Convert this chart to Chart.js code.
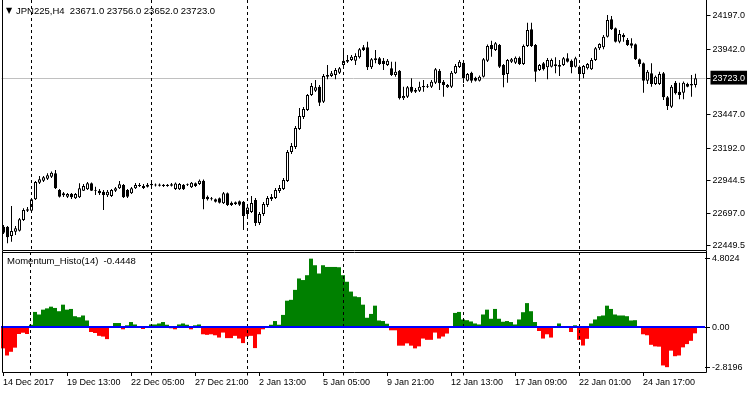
<!DOCTYPE html>
<html>
<head>
<meta charset="utf-8">
<script src="https://cdn.jsdelivr.net/npm/chart.js@4.4.1/dist/chart.umd.min.js"></script>
<style>
  html, body { margin: 0; padding: 0; background: #fff; overflow: hidden; }
  #wrap { position: relative; width: 750px; height: 394px; }
  canvas { position: absolute; left: 0; }
  #price-chart { top: 0; }
  #momentum-chart { top: 251px; }
</style>
</head>
<body>
<div id="wrap">
  <canvas id="price-chart" width="750" height="252"></canvas>
  <canvas id="momentum-chart" width="750" height="143"></canvas>
</div>
<script>
const symbol = 'JPN225,H4';
const indicatorName = 'Momentum_Histo(14)';

// one label every 16 H4 bars
const timeLabels = ['14 Dec 2017', '19 Dec 13:00', '22 Dec 05:00', '27 Dec 21:00', '2 Jan 13:00',
  '5 Jan 05:00', '9 Jan 21:00', '12 Jan 13:00', '17 Jan 09:00', '22 Jan 01:00', '24 Jan 17:00'];
const labelStep = 16;
// bars where a new week starts (period separators)
const weekStarts = [7, 37, 61, 85, 115, 144];

const opens = [22596, 22596, 22525, 22558, 22566, 22647, 22717, 22717, 22804, 22930,
  22945, 22960, 22975, 23001, 22874, 22849, 22823, 22846, 22811, 22819,
  22869, 22880, 22925, 22872, 22869, 22861, 22834, 22829, 22869, 22887,
  22912, 22874, 22849, 22887, 22905, 22905, 22899, 22910, 22908, 22916,
  22905, 22914, 22906, 22882, 22880, 22914, 22912, 22895, 22925, 22920,
  22945, 22823, 22804, 22804, 22811, 22773, 22849, 22778, 22768, 22788,
  22785, 22692, 22707, 22798, 22624, 22692, 22760, 22806, 22814, 22867,
  22882, 22943, 23163, 23200, 23337, 23428, 23481, 23595, 23628, 23658,
  23544, 23734, 23739, 23747, 23764, 23823, 23848, 23861, 23855, 23881,
  23957, 23957, 23805, 23861, 23874, 23855, 23823, 23798, 23747, 23780,
  23570, 23582, 23658, 23633, 23628, 23654, 23658, 23658, 23688, 23780,
  23696, 23654, 23658, 23760, 23808, 23840, 23704, 23764, 23726, 23704,
  23734, 23855, 23974, 23937, 23974, 23823, 23754, 23848, 23840, 23878,
  23830, 23967, 24094, 23974, 23785, 23836, 23805, 23810, 23815, 23810,
  23823, 23874, 23855, 23810, 23810, 23754, 23798, 23790, 23861, 23949,
  23957, 24037, 24169, 24101, 24000, 24050, 24012, 23987, 23980, 23866,
  23836, 23704, 23760, 23679, 23679, 23760, 23578, 23506, 23688, 23620,
  23612, 23679, 23667, 23671];

const highs = [22609, 22601, 22753, 22601, 22662, 22735, 22745, 22814, 22943, 22980,
  22980, 23001, 23015, 23026, 22882, 22859, 22851, 22851, 22851, 22925,
  22920, 22935, 22931, 22899, 22882, 22874, 22874, 22882, 22897, 22943,
  22920, 22882, 22897, 22927, 22927, 22920, 22927, 22935, 22924, 22924,
  22920, 22920, 22927, 22931, 22927, 22920, 22924, 22935, 22931, 22954,
  22954, 22832, 22821, 22810, 22817, 22859, 22855, 22787, 22787, 22795,
  22791, 22760, 22829, 22814, 22707, 22783, 22829, 22844, 22889, 22912,
  22965, 23178, 23231, 23360, 23496, 23504, 23603, 23686, 23709, 23671,
  23754, 23823, 23777, 23800, 23808, 23931, 23899, 23899, 23912, 23952,
  23974, 24000, 23876, 23937, 23883, 23876, 23868, 23848, 23848, 23785,
  23658, 23663, 23722, 23648, 23696, 23709, 23679, 23709, 23800, 23792,
  23709, 23679, 23777, 23830, 23861, 23853, 23762, 23772, 23734, 23743,
  23876, 23978, 24007, 23997, 23982, 23830, 23868, 23876, 23887, 23887,
  23978, 24144, 24144, 23982, 23830, 23845, 23876, 23872, 23881, 23861,
  23884, 23912, 23865, 23886, 23819, 23823, 23838, 23876, 23959, 23987,
  24050, 24202, 24195, 24107, 24088, 24063, 24028, 24025, 23986, 23872,
  23842, 23785, 23836, 23743, 23772, 23770, 23588, 23671, 23701, 23688,
  23698, 23688, 23747, 23756];

const lows = [22540, 22470, 22482, 22533, 22560, 22639, 22707, 22707, 22798, 22920,
  22935, 22950, 22965, 22882, 22817, 22821, 22814, 22806, 22806, 22814,
  22867, 22874, 22867, 22836, 22836, 22722, 22821, 22821, 22859, 22882,
  22814, 22814, 22844, 22882, 22897, 22882, 22893, 22905, 22901, 22901,
  22897, 22899, 22901, 22874, 22874, 22874, 22905, 22889, 22897, 22912,
  22728, 22795, 22795, 22779, 22772, 22768, 22753, 22753, 22760, 22753,
  22571, 22677, 22700, 22601, 22609, 22677, 22745, 22791, 22806, 22851,
  22874, 22935, 23147, 23185, 23330, 23413, 23474, 23588, 23618, 23512,
  23534, 23714, 23732, 23714, 23754, 23808, 23838, 23853, 23823, 23872,
  23929, 23785, 23792, 23836, 23823, 23785, 23815, 23739, 23734, 23561,
  23557, 23572, 23610, 23610, 23618, 23620, 23648, 23648, 23679, 23633,
  23582, 23648, 23648, 23754, 23800, 23686, 23698, 23688, 23698, 23698,
  23728, 23845, 23886, 23929, 23800, 23654, 23688, 23838, 23830, 23823,
  23823, 23959, 23959, 23696, 23777, 23781, 23714, 23804, 23760, 23739,
  23815, 23842, 23760, 23804, 23722, 23722, 23789, 23785, 23853, 23937,
  23942, 24031, 24088, 23993, 23987, 24000, 23967, 23949, 23861, 23810,
  23613, 23679, 23658, 23671, 23671, 23557, 23481, 23496, 23599, 23562,
  23562, 23654, 23582, 23652];

const closes = [22550, 22515, 22563, 22584, 22652, 22722, 22728, 22804, 22935, 22955,
  22971, 22986, 23005, 22887, 22823, 22834, 22844, 22819, 22844, 22887,
  22905, 22925, 22869, 22867, 22849, 22836, 22861, 22874, 22887, 22917,
  22819, 22823, 22887, 22912, 22912, 22889, 22914, 22920, 22916, 22907,
  22914, 22905, 22917, 22924, 22920, 22880, 22917, 22930, 22905, 22945,
  22804, 22804, 22811, 22785, 22778, 22849, 22760, 22760, 22781, 22763,
  22677, 22741, 22775, 22624, 22692, 22768, 22814, 22821, 22874, 22889,
  22950, 23163, 23208, 23345, 23436, 23489, 23595, 23663, 23654, 23537,
  23739, 23747, 23760, 23785, 23798, 23855, 23861, 23886, 23891, 23942,
  23937, 23805, 23866, 23874, 23830, 23830, 23855, 23747, 23772, 23570,
  23588, 23654, 23620, 23620, 23658, 23663, 23663, 23696, 23790, 23684,
  23671, 23671, 23764, 23815, 23848, 23724, 23754, 23704, 23704, 23734,
  23866, 23967, 23942, 23987, 23810, 23747, 23861, 23866, 23878, 23830,
  23967, 24088, 23967, 23772, 23823, 23790, 23861, 23861, 23828, 23823,
  23874, 23848, 23805, 23874, 23754, 23815, 23830, 23861, 23949, 23982,
  24037, 24164, 24094, 24000, 24058, 24033, 23974, 23969, 23866, 23830,
  23704, 23772, 23679, 23734, 23754, 23578, 23512, 23658, 23608, 23595,
  23688, 23658, 23679, 23723];

const momentum = [-1.50, -2.00, -1.74, -1.45, -0.49, -0.40, -0.49, 0.16, 1.06, 0.88,
  1.22, 1.31, 1.43, 1.34, 1.11, 1.57, 1.22, 1.27, 0.76, 0.69,
  0.81, 0.46, -0.35, -0.42, -0.62, -0.67, -0.85, -0.07, 0.28, 0.28,
  -0.16, 0.12, 0.35, 0.18, 0.02, -0.14, 0.03, 0.18, 0.18, 0.25,
  0.35, 0.16, -0.09, -0.16, 0.18, 0.25, 0.16, -0.16, 0.12, 0.18,
  -0.51, -0.55, -0.51, -0.58, -0.74, -0.39, -0.78, -0.78, -0.62, -0.81,
  -1.13, -0.67, -0.62, -1.48, -0.51, -0.16, -0.03, 0.16, 0.42, 0.16,
  0.85, 1.85, 1.91, 2.61, 3.41, 3.30, 3.64, 4.8024, 4.34, 3.76,
  4.34, 4.22, 4.22, 4.22, 4.20, 3.64, 3.18, 2.49, 2.15, 2.10,
  1.57, 0.65, 0.92, 1.50, 0.46, 0.42, 0.23, -0.23, -0.23, -1.31,
  -1.31, -1.15, -1.31, -1.50, -1.36, -0.81, -0.90, -0.90, -0.39, -0.81,
  -0.67, -0.46, -0.03, 0.99, 1.06, 0.53, 0.48, 0.39, 0.25, 0.18,
  0.88, 1.22, 0.58, 1.27, 0.58, 0.37, 0.42, 0.35, 0.18, 0.53,
  1.04, 1.68, 1.11, 0.35, -0.28, -0.81, -0.51, -0.74, 0.02, 0.25,
  0.02, -0.02, -0.35, 0.12, -0.90, -1.30, -0.83, 0.25, 0.53, 0.76,
  0.81, 1.50, 1.27, 0.88, 0.81, 0.81, 0.76, 0.46, 0.48, 0.03,
  -0.51, -0.58, -1.25, -1.36, -1.38, -2.70, -2.8196, -1.66, -2.05, -2.00,
  -1.43, -1.20, -0.97, -0.4448];

const priceTicks = [24197.0, 23942.0, 23447.0, 23192.0, 22944.5, 22697.0, 22449.5];
const momentumTicks = [4.8024, 0, -2.8196];
const priceMin = 22411.4, priceMax = 24316;
const momMin = -3.23, momMax = 5.27;
const emptySlots = 2; // chart shift at the right edge

Chart.defaults.font.family = "'Liberation Sans', Arial, sans-serif";
Chart.defaults.font.size = 9;
Chart.defaults.color = '#000';

const n = closes.length;
const last = n - 1;
const lastPrice = closes[last];
const slots = Array.from({ length: n + emptySlots }, (_, i) => i);

const bodies = opens.map((o, i) => [Math.min(o, closes[i]), Math.max(o, closes[i])]);
const wicks = lows.map((l, i) => [l, highs[i]]);
const bodyColors = opens.map((o, i) => (closes[i] >= o ? '#fff' : '#000'));
const histoColors = momentum.map(v => (v >= 0 ? '#008000' : '#ff0000'));

// frame + weekly separators, same for both panels
const panelDecor = {
  id: 'panelDecor',
  afterDatasetsDraw(chart, args, opts) {
    const { ctx, chartArea: a, scales: { x } } = chart;
    ctx.save();
    ctx.strokeStyle = '#000';
    ctx.lineWidth = 1;
    ctx.setLineDash([3, 3]);
    weekStarts.forEach(idx => {
      const px = Math.floor(x.getPixelForValue(idx)) + 0.5;
      ctx.beginPath();
      ctx.moveTo(px, a.top);
      ctx.lineTo(px, a.bottom);
      ctx.stroke();
    });
    ctx.setLineDash([]);
    if (opts.zeroLine) {
      const zy = chart.scales.y.getPixelForValue(0);
      ctx.strokeStyle = '#0000ff';
      ctx.lineWidth = 2;
      ctx.beginPath();
      ctx.moveTo(a.left, zy);
      ctx.lineTo(a.right, zy);
      ctx.stroke();
      ctx.strokeStyle = '#000';
      ctx.lineWidth = 1;
    }
    const l = Math.floor(a.left) + 1.5, r = Math.floor(a.right) + 1.5;
    const b = Math.ceil(a.bottom) - 0.5, t = Math.floor(a.top) + 0.5;
    ctx.beginPath();
    if (opts.topLine) { ctx.moveTo(l, t); ctx.lineTo(r, t); }
    ctx.moveTo(l, 0); ctx.lineTo(l, b); ctx.lineTo(r, b); ctx.lineTo(r, 0);
    ctx.stroke();
    if (opts.weekTicks) {
      weekStarts.forEach(idx => {
        const px = Math.floor(x.getPixelForValue(idx)) + 0.5;
        ctx.beginPath();
        ctx.moveTo(px, b);
        ctx.lineTo(px, b + 3);
        ctx.stroke();
      });
    }
    ctx.fillStyle = '#000';
    ctx.textBaseline = 'middle';
    ctx.textAlign = 'left';
    if (opts.header) {
      ctx.font = '8px DejaVu Sans';
      ctx.fillText('\u25BC', 6, 11);
      ctx.font = "9.5px 'Liberation Sans'";
      const ohlc = [opens[last], highs[last], lows[last], closes[last]].map(v => v.toFixed(1)).join(' ');
      ctx.fillText(symbol + '  ' + ohlc, 16, 11);
    }
    if (opts.indicator) {
      ctx.font = "9.5px 'Liberation Sans'";
      ctx.fillText(indicatorName + '  ' + momentum[last].toFixed(4), 7, 10);
    }
    ctx.restore();
  }
};

const priceLine = {
  id: 'priceLine',
  beforeDatasetsDraw(chart) {
    const { ctx, chartArea: a, scales: { y } } = chart;
    const py = Math.round(y.getPixelForValue(lastPrice)) + 0.5;
    ctx.save();
    ctx.strokeStyle = '#c0c0c0';
    ctx.lineWidth = 1;
    ctx.beginPath();
    ctx.moveTo(a.left, py);
    ctx.lineTo(a.right, py);
    ctx.stroke();
    ctx.restore();
  }
};

new Chart(document.getElementById('price-chart').getContext('2d'), {
  type: 'bar',
  data: {
    labels: slots,
    datasets: [
      { label: 'body', data: bodies, backgroundColor: bodyColors, borderColor: '#000', borderWidth: 1,
        borderSkipped: false, barThickness: 3, grouped: false, inflateAmount: 0, order: 0 },
      { label: 'wick', data: wicks, backgroundColor: '#000', borderWidth: 0,
        barThickness: 1, grouped: false, inflateAmount: 0, order: 1 }
    ]
  },
  options: {
    responsive: false,
    animation: false,
    devicePixelRatio: 1,
    events: [],
    layout: { padding: { left: 1.5, right: 0, top: 0, bottom: 1 } },
    plugins: {
      legend: { display: false },
      tooltip: { enabled: false },
      panelDecor: { header: true }
    },
    scales: {
      x: { type: 'category', display: false, offset: true },
      y: {
        position: 'right',
        min: priceMin,
        max: priceMax,
        afterBuildTicks: s => { s.ticks = priceTicks.concat(lastPrice).map(v => ({ value: v })); },
        afterFit: s => { s.width = 44.5; s.paddingTop = 0; s.paddingBottom = 0; },
        border: { display: false },
        grid: { drawOnChartArea: false, drawTicks: true, tickLength: 5, color: '#000' },
        ticks: {
          padding: 2,
          callback: v => v.toFixed(1),
          color: c => (c.tick && c.tick.value === lastPrice ? '#fff' : '#000'),
          showLabelBackdrop: c => !!(c.tick && c.tick.value === lastPrice),
          backdropColor: '#000',
          backdropPadding: { top: 2, bottom: 1, left: 2, right: 2 }
        }
      }
    }
  },
  plugins: [priceLine, panelDecor]
});

new Chart(document.getElementById('momentum-chart').getContext('2d'), {
  type: 'bar',
  data: {
    labels: slots,
    datasets: [
      { label: indicatorName, data: momentum, backgroundColor: histoColors, borderWidth: 0,
        barPercentage: 1, categoryPercentage: 1, inflateAmount: 0 }
    ]
  },
  options: {
    responsive: false,
    animation: false,
    devicePixelRatio: 1,
    events: [],
    layout: { padding: { left: 1, right: 0, top: 1, bottom: 0 } },
    plugins: {
      legend: { display: false },
      tooltip: { enabled: false },
      panelDecor: { zeroLine: true, topLine: true, weekTicks: true, indicator: true }
    },
    scales: {
      x: {
        type: 'category',
        offset: true,
        afterFit: s => { s.height = 21; s.paddingLeft = 0; s.paddingRight = 0; },
        border: { display: false },
        grid: { drawOnChartArea: false, drawTicks: true, tickLength: 3, color: '#000', offset: false },
        ticks: {
          autoSkip: false,
          maxRotation: 0,
          minRotation: 0,
          align: 'start',
          padding: 1,
          callback: (v, i) => (i % labelStep === 0 ? timeLabels[i / labelStep] : null)
        }
      },
      y: {
        position: 'right',
        min: momMin,
        max: momMax,
        afterBuildTicks: s => { s.ticks = momentumTicks.map(v => ({ value: v })); },
        afterFit: s => { s.width = 45; s.paddingTop = 0; s.paddingBottom = 0; },
        border: { display: false },
        grid: { drawOnChartArea: false, drawTicks: true, tickLength: 5, color: '#000' },
        ticks: { padding: 2, callback: v => (v === 0 ? '0.00' : v.toFixed(4)) }
      }
    }
  },
  plugins: [panelDecor]
});
</script>
</body>
</html>
